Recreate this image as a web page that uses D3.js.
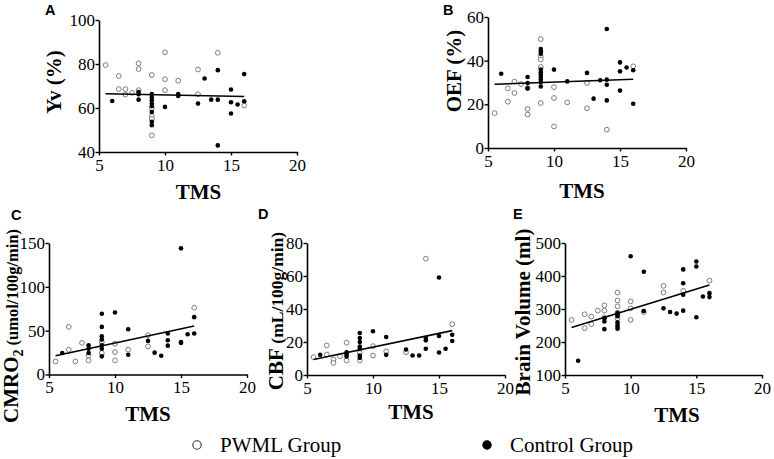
<!DOCTYPE html>
<html><head><meta charset="utf-8">
<script src="https://cdn.jsdelivr.net/npm/d3@7"></script>
<style>
body{margin:0;background:#fff;}
svg{display:block;}
svg text{font-family:"Liberation Serif","Times New Roman",serif;}
svg text.letter{font-family:"Liberation Sans",Arial,sans-serif;}
</style></head>
<body>
<svg id="chart" width="774" height="459"></svg>
<script>
// ---- data (TMS, value) ----
const xTicks = [5, 10, 15, 20];

const yvPwml = [[5.5,79.5],[6.5,74.5],[6.5,68.6],[7,68.6],[7,66.1],[7.5,66.9],[8,80.3],[8,77.7],[8,68.1],[9,75],[9,59.7],[9,56.3],[9,55],[9,47.6],[10,85.3],[10,73.1],[10,68.1],[11,72.4],[12.5,77.5],[12.5,66.3],[14,85.1],[16,61.1]];
const yvControl = [[6,63.2],[8,67.3],[8,66.3],[8,63.8],[9,66.3],[9,64.8],[9,63.5],[9,62],[9,60.8],[9,58.2],[9,53.7],[9,52.2],[10,60.5],[11,66.3],[11,65.5],[12.5,62],[13,73.4],[13.5,63.8],[14,77.2],[14,63.8],[14,43],[15,68.4],[15,62.6],[15,57.5],[15.5,61.6],[16,75.4],[16,63.1]];
const yvFit = [[5.5,66.5],[16,65.2]];
const yvTicks = [40, 60, 80, 100];

const oefPwml = [[5.5,16],[6.5,21.2],[6.5,27.3],[7,25.2],[7,30.4],[7.5,29.3],[8,17.9],[8,15.3],[8,27.5],[9,49.9],[9,42],[9,40.5],[9,37.1],[9,20.6],[10,27.9],[10,22.9],[10,9.9],[11,20.9],[12.5,29.8],[12.5,18.2],[14,8.4],[16,37.4]];
const oefControl = [[6,34],[8,32.5],[8,29.8],[8,27.3],[9,45.3],[9,44.3],[9,43.2],[9,35.9],[9,34.7],[9,33.6],[9,32.5],[9,31.3],[9,30.1],[9,28.2],[10,35.9],[11,30.5],[12.5,34.4],[13,22.6],[13.5,31],[14,54.5],[14,31.3],[14,29],[14,21.8],[15,39.2],[15,35.1],[15,26.3],[15.5,36.9],[16,35.6],[16,20.3]];
const oefFit = [[5.5,29.2],[16,31.5]];
const oefTicks = [0, 20, 40, 60];

const cmroPwml = [[5.5,14.9],[6.5,54.3],[6.5,28.3],[7,14.9],[7.5,36],[8,16.1],[8,21.8],[9,37.1],[9,24.5],[10,35.2],[10,25.6],[10,16.1],[11,28.3],[12.5,44.8],[12.5,32.1],[16,76.2]];
const cmroControl = [[6,24.5],[8,33.3],[8,29.5],[8,24.5],[9,69.3],[9,54.3],[9,43.6],[9,39.8],[9,33.3],[9,29.5],[9,20.7],[10,70.8],[11,51.7],[11,22.6],[12.5,38.3],[13,24.9],[13.5,21.4],[14,46.7],[14,39],[14,32.9],[15,143.9],[15,37.1],[15,36],[15.5,45.9],[16,65.4],[16,46.7]];
const cmroFit = [[5.5,21.3],[16,55.3]];
const cmroTicks = [0, 50, 100, 150];

const cbfPwml = [[5.5,10.8],[6.5,17.9],[6.5,12.4],[7,9.4],[7,7.3],[7.5,11.4],[8,19.6],[8,8.8],[9,8.8],[9,13.4],[10,17.5],[10,11.8],[11,14.3],[12.5,13.8],[14,70.5],[16,30.8]];
const cbfControl = [[6,12.2],[8,13.8],[8,12.4],[8,11.2],[9,25.5],[9,22.4],[9,20],[9,17.3],[9,15.9],[9,11.8],[9,10.4],[10,26.5],[11,23],[11,12.2],[12.5,15.5],[13,11.8],[13.5,11.8],[14,22.4],[14,21],[14,15.9],[15,59.1],[15,23.6],[15,13.6],[15.5,15.9],[16,24.4],[16,20.6]];
const cbfFit = [[5.5,9.4],[16,26.9]];
const cbfTicks = [0, 20, 40, 60, 80];

const bvPwml = [[5.5,267],[6.5,284],[6.5,242],[7,277],[7,254],[7.5,295],[8,311],[8,295],[8,274],[9,350],[9,326],[9,308],[9,289],[9,272],[10,323],[10,302],[10,267],[11,291],[12.5,370],[12.5,350],[14,355],[16,386]];
const bvControl = [[6,143],[8,272],[8,262],[8,239],[9,288],[9,283],[9,278],[9,260],[9,252],[9,246],[9,240],[10,460],[11,413],[11,294],[12.5,302],[13,291],[13.5,286],[14,420],[14,378],[14,343],[14,295],[15,444],[15,429],[15,275],[15.5,338],[16,348],[16,336]];
const bvFit = [[5.5,244],[16,373]];
const bvTicks = [100, 200, 300, 400, 500];

const legendLabels = ["PWML Group", "Control Group"];

// ---- layout ----
const svg = d3.select("#chart");

const panels = [
  {letter:"A", lx:45, ly:15, box:[99,297,20,152], dom:[40,100], ticks:yvTicks, pw:yvPwml, ct:yvControl, fit:yvFit,
   ylab:[{t:"Yv (%)", s:21}], yl:[61,82], xl:[198.5,199]},
  {letter:"B", lx:443, ly:15, box:[488,686,17,148], dom:[0,60], ticks:oefTicks, pw:oefPwml, ct:oefControl, fit:oefFit,
   ylab:[{t:"OEF (%)", s:21}], yl:[461,71], xl:[582,198]},
  {letter:"C", lx:11, ly:220, box:[49,247,243,374.5], dom:[0,150], ticks:cmroTicks, pw:cmroPwml, ct:cmroControl, fit:cmroFit,
   ylab:[{t:"CMRO", s:21},{t:"2", s:14, sub:true},{t:" (umol/100g/min)", s:16.5, up:true}], yl:[18,326], xl:[148,421]},
  {letter:"D", lx:258, ly:219, box:[307,505,243,375], dom:[0,80], ticks:cbfTicks, pw:cbfPwml, ct:cbfControl, fit:cbfFit,
   ylab:[{t:"CBF ", s:21},{t:"(mL/100g/min)", s:17.5}], yl:[283,311], xl:[411,419]},
  {letter:"E", lx:513, ly:219, box:[565,762,243,375], dom:[100,500], ticks:bvTicks, pw:bvPwml, ct:bvControl, fit:bvFit,
   ylab:[{t:"Brain Volume (ml)", s:21}], yl:[530,312], xl:[677,422]}
];

panels.forEach(p => {
  const [x0,x1,yt,yb] = p.box;
  const x = d3.scaleLinear().domain([5,20]).range([x0,x1]);
  const y = d3.scaleLinear().domain(p.dom).range([yb,yt]);
  const g = svg.append("g");

  const xa = g.append("g").attr("transform",`translate(0,${yb})`)
    .call(d3.axisBottom(x).tickValues(xTicks).tickSize(3.5).tickSizeOuter(0).tickPadding(3));
  const ya = g.append("g").attr("transform",`translate(${x0},0)`)
    .call(d3.axisLeft(y).tickValues(p.ticks).tickSize(3.5).tickSizeOuter(0).tickPadding(0.5));
  [xa,ya].forEach(a=>{
    a.attr("font-family",null).attr("font-size",null);
    a.selectAll("path.domain").attr("stroke","#000").attr("stroke-width",1.6);
    a.selectAll(".tick line").attr("stroke","#000").attr("stroke-width",1.4);
    a.selectAll(".tick text").style("font-size","17px").attr("fill","#000");
  });

  g.append("g").selectAll("circle").data(p.pw).join("circle")
    .attr("cx",d=>x(d[0])).attr("cy",d=>y(d[1])).attr("r",2.4)
    .attr("fill","#fff").attr("stroke","#7d7d7d").attr("stroke-width",1);
  g.append("g").selectAll("circle").data(p.ct).join("circle")
    .attr("cx",d=>x(d[0])).attr("cy",d=>y(d[1])).attr("r",2.3)
    .attr("fill","#000");
  g.append("path").datum(p.fit)
    .attr("d", d3.line().x(d=>x(d[0])).y(d=>y(d[1])))
    .attr("stroke","#000").attr("stroke-width",1.6).attr("fill","none");

  const yt_ = g.append("text")
    .attr("transform",`translate(${p.yl[0]},${p.yl[1]}) rotate(-90)`)
    .attr("text-anchor","middle").attr("font-weight","bold").attr("fill","#000");
  p.ylab.forEach(s=>{
    const ts = yt_.append("tspan").style("font-size",s.s+"px").text(s.t);
    if (s.sub) ts.attr("dy",5);
    else if (s.up) ts.attr("dy",-5);
  });
  g.append("text").attr("x",p.xl[0]).attr("y",p.xl[1]).attr("text-anchor","middle")
    .attr("font-weight","bold").style("font-size","21px").text("TMS");
  g.append("text").attr("class","letter").attr("x",p.lx).attr("y",p.ly)
    .attr("font-weight","bold").style("font-size","14.5px").text(p.letter);
});

// legend
const leg = svg.append("g");
const legX = [197, 487];
legendLabels.forEach((lab,i)=>{
  leg.append("circle").attr("cx",legX[i]).attr("cy",445).attr("r",4.2)
    .attr("fill", i===0 ? "#fff" : "#000").attr("stroke", i===0 ? "#333" : "#000").attr("stroke-width",1.1);
  leg.append("text").attr("x",legX[i]+23).attr("y",451.5)
    .style("font-size","21px").attr("fill","#000").text(lab);
});
</script>
</body></html>
